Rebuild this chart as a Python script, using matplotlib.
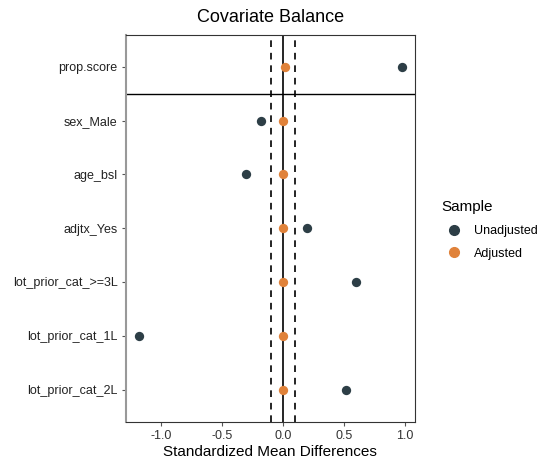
import matplotlib.pyplot as plt
from matplotlib.lines import Line2D

plt.rcParams['font.family'] = ['Liberation Sans', 'DejaVu Sans']

# covariates, top to bottom
covariates = ["prop.score", "sex_Male", "age_bsl", "adjtx_Yes",
              "lot_prior_cat_>=3L", "lot_prior_cat_1L", "lot_prior_cat_2L"]
unadjusted = [0.975, -0.18, -0.30, 0.195, 0.60, -1.18, 0.52]
adjusted = [0.015, 0.003, -0.002, 0.0, -0.002, -0.002, -0.002]
xticks = [-1.0, -0.5, 0.0, 0.5, 1.0]
threshold = 0.1

col_un = "#2D3E46"
col_adj = "#E0823A"

fig = plt.figure(figsize=(5.38, 4.62), dpi=100)
ax = fig.add_axes([0.234, 0.087, 0.537, 0.838])

n = len(covariates)
ypos = [n - i for i in range(n)]

ax.axvline(0, color="black", lw=1.2, zorder=1)
ax.axvline(-threshold, color="black", lw=1.2, ls=(0, (4, 3.5)), zorder=1)
ax.axvline(threshold, color="black", lw=1.2, ls=(0, (4, 3.5)), zorder=1)
# separator below prop.score
ax.axhline(n - 0.5, color="black", lw=1.0, zorder=1)

ax.scatter(unadjusted, ypos, s=45, color=col_un, zorder=3, linewidths=0)
ax.scatter(adjusted, ypos, s=45, color=col_adj, zorder=3, linewidths=0)

ax.set_xlim(-1.287, 1.082)
ax.set_ylim(0.4, n + 0.6)
ax.set_yticks(ypos)
ax.set_yticklabels(covariates, fontsize=9, color="#222222")
ax.set_xticks(xticks)
ax.set_xticklabels([f"{v:.1f}" for v in xticks], fontsize=9, color="#333333")
ax.tick_params(axis="both", length=3, width=0.8, color="#555555", pad=3)

for s in ax.spines.values():
    s.set_color("#333333")
    s.set_linewidth(0.8)
ax.spines["left"].set_color("#999999")
ax.spines["left"].set_linewidth(1.5)

ax.set_xlabel("Standardized Mean Differences", fontsize=11, labelpad=2)
ax.set_title("Covariate Balance", fontsize=13, pad=9)

handles = [Line2D([], [], marker="o", ls="", color=col_un, markersize=7),
           Line2D([], [], marker="o", ls="", color=col_adj, markersize=7)]
leg = fig.legend(handles, ["Unadjusted", "Adjusted"], title="Sample",
                 loc="center left", bbox_to_anchor=(0.8, 0.502), frameon=False,
                 fontsize=9, title_fontsize=11, handletextpad=0.6,
                 labelspacing=0.85)
leg._legend_box.align = "left"

fig.savefig("out.png", dpi=100)
